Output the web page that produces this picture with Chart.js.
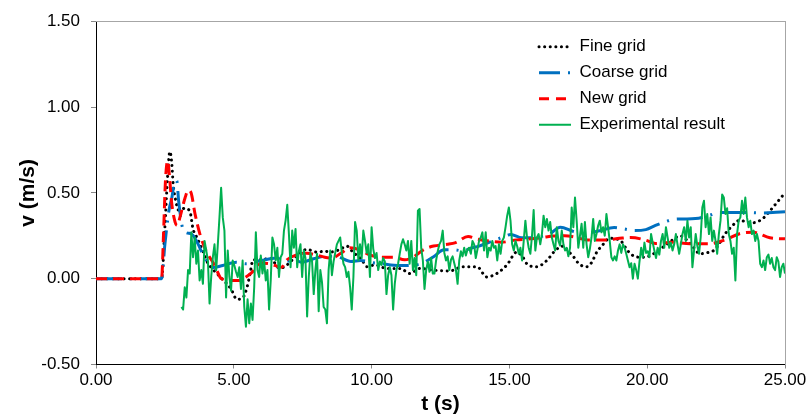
<!DOCTYPE html>
<html><head><meta charset="utf-8">
<script src="https://cdn.jsdelivr.net/npm/chart.js@4.4.1/dist/chart.umd.min.js"></script>
<style>html,body{margin:0;padding:0;background:#fff;}#wrap{width:811px;height:420px;}</style>
</head><body><div id="wrap"><canvas id="c" width="811" height="420"></canvas></div>
<script>
const xTickValues = [0, 5, 10, 15, 20, 25];
const xTickLabels = ['0.00', '5.00', '10.00', '15.00', '20.00', '25.00'];
const yTickValues = [-0.5, 0, 0.5, 1, 1.5];
const yTickLabels = ['-0.50', '0.00', '0.50', '1.00', '1.50'];
const seriesNames = ['Fine grid', 'Coarse grid', 'New grid', 'Experimental result'];

const fineT = [0,2.38,2.5,2.6,2.68,2.75,2.80,2.90,2.99,3.23,3.41,3.52,3.66,3.88,4.06,4.21,4.57,4.90,5.11,5.33,5.48,5.59,5.70,6.02,6.31,6.67,6.93,7.22,7.65,8.02,8.31,8.49,8.85,9.10,9.32,9.65,9.83,10.12,10.55,11.03,11.39,11.75,12.22,12.84,13.31,13.82,14.18,14.54,14.91,15.27,15.49,15.67,15.99,16.36,16.61,16.79,16.97,17.08,17.34,17.52,17.81,17.99,18.17,18.35,18.64,19.04,19.28,19.48,19.73,20.13,20.39,20.63,21.0,21.18,21.47,21.69,21.91,22.13,22.42,22.6,22.8,23.07,23.36,23.72,23.97,24.23,24.48,24.74,25.0];
const fineV = [0,0,0.3,0.6,0.74,0.67,0.55,0.45,0.40,0.41,0.39,0.29,0.24,0.16,0.09,0.06,0.0,-0.06,-0.12,-0.11,-0.05,0.03,0.11,0.11,0.12,0.06,0.08,0.125,0.17,0.155,0.16,0.155,0.17,0.19,0.155,0.11,0.07,0.08,0.06,0.06,0.03,0.06,0.05,0.045,0.07,0.07,0.01,0.03,0.08,0.155,0.125,0.08,0.07,0.106,0.155,0.18,0.19,0.17,0.125,0.087,0.07,0.096,0.155,0.19,0.235,0.22,0.165,0.135,0.125,0.135,0.165,0.19,0.235,0.25,0.22,0.18,0.145,0.15,0.165,0.2,0.255,0.305,0.34,0.325,0.33,0.355,0.40,0.45,0.50];

const coarseT = [0,2.38,2.5,2.65,2.75,2.85,2.93,3.0,3.07,3.17,3.47,3.71,3.85,4.25,4.6,5.1,5.45,6.0,6.55,6.9,7.2,7.45,7.9,8.3,8.7,9.25,9.6,10.05,10.4,10.7,11.27,11.79,12.07,12.25,12.63,13.0,13.3,13.65,13.9,14.5,14.8,15.05,15.45,15.75,16.1,16.45,16.85,17.3,17.7,18.0,18.3,18.8,19.15,19.55,19.95,20.3,20.7,20.9,21.3,21.75,22.27,22.6,23.1,23.6,24.1,24.55,25.0];
const coarseV = [0,0,0.2,0.40,0.47,0.56,0.57,0.45,0.36,0.28,0.26,0.20,0.15,0.065,0.077,0.096,0.087,0.106,0.12,0.10,0.11,0.096,0.116,0.13,0.13,0.10,0.106,0.093,0.087,0.08,0.077,0.087,0.11,0.128,0.168,0.168,0.162,0.18,0.19,0.226,0.245,0.257,0.238,0.238,0.245,0.26,0.30,0.276,0.262,0.27,0.28,0.298,0.29,0.28,0.286,0.31,0.334,0.344,0.348,0.35,0.37,0.386,0.386,0.386,0.383,0.385,0.39];

const newT = [0,2.38,2.45,2.52,2.6,2.68,2.74,2.87,2.95,3.05,3.23,3.35,3.45,3.59,3.77,4.0,4.3,4.55,4.9,5.2,5.4,5.65,6.0,6.3,6.74,6.9,7.3,7.65,7.95,8.3,8.55,8.9,9.2,9.6,9.9,10.4,10.8,11.2,11.5,11.9,12.25,12.75,13.05,13.5,13.85,14.3,14.7,15.25,15.8,16.2,16.6,17.0,17.45,17.8,18.5,19.0,19.4,19.95,20.3,20.9,21.55,22.2,22.8,23.35,23.85,24.45,25.0];
const newV = [0,0,0.26,0.57,0.686,0.57,0.45,0.33,0.31,0.36,0.47,0.515,0.50,0.38,0.26,0.16,0.08,0.0,-0.01,-0.01,0.005,0.035,0.09,0.087,0.067,0.106,0.14,0.148,0.14,0.125,0.12,0.15,0.18,0.166,0.14,0.125,0.125,0.11,0.125,0.17,0.19,0.2,0.21,0.245,0.23,0.218,0.212,0.226,0.232,0.24,0.248,0.25,0.24,0.226,0.226,0.235,0.24,0.224,0.205,0.212,0.203,0.203,0.225,0.262,0.27,0.238,0.232];

const expT = [
3.10,3.16,3.22,3.28,3.34,3.40,3.46,3.52,3.58,3.64,
3.70,3.76,3.82,3.88,3.94,4.00,4.06,4.12,4.18,4.24,
4.30,4.36,4.42,4.48,4.54,4.60,4.66,4.72,4.78,4.84,
4.90,4.96,5.02,5.08,5.14,5.20,5.26,5.32,5.38,5.44,
5.50,5.56,5.62,5.68,5.74,5.80,5.86,5.92,5.98,6.04,
6.10,6.16,6.22,6.28,6.34,6.40,6.46,6.52,6.58,6.64,
6.70,6.76,6.82,6.88,6.94,7.00,7.06,7.12,7.18,7.24,
7.30,7.36,7.42,7.48,7.54,7.60,7.66,7.72,7.78,7.84,
7.90,7.96,8.02,8.08,8.14,8.20,8.26,8.32,8.38,8.44,
8.50,8.56,8.62,8.68,8.74,8.80,8.86,8.92,8.98,9.04,
9.10,9.16,9.22,9.28,9.34,9.40,9.46,9.52,9.58,9.64,
9.70,9.76,9.82,9.88,9.94,10.00,10.06,10.12,10.18,10.24,
10.30,10.36,10.42,10.48,10.54,10.60,10.66,10.72,10.78,10.84,
10.90,10.96,11.02,11.08,11.14,11.20,11.26,11.32,11.38,11.44,
11.50,11.56,11.62,11.68,11.74,11.80,11.86,11.92,11.98,12.04,
12.10,12.16,12.22,12.28,12.34,12.40,12.46,12.52,12.58,12.64,
12.70,12.76,12.82,12.88,12.94,13.00,13.06,13.12,13.18,13.24,
13.30,13.36,13.42,13.48,13.54,13.60,13.66,13.72,13.78,13.84,
13.90,13.96,14.02,14.08,14.14,14.20,14.26,14.32,14.38,14.44,
14.50,14.56,14.62,14.68,14.74,14.80,14.86,14.92,14.98,15.04,
15.10,15.16,15.22,15.28,15.34,15.40,15.46,15.52,15.58,15.64,
15.70,15.76,15.82,15.88,15.94,16.00,16.06,16.12,16.18,16.24,
16.30,16.36,16.42,16.48,16.54,16.60,16.66,16.72,16.78,16.84,
16.90,16.96,17.02,17.08,17.14,17.20,17.26,17.32,17.38,17.44,
17.50,17.56,17.62,17.68,17.74,17.80,17.86,17.92,17.98,18.04,
18.10,18.16,18.22,18.28,18.34,18.40,18.46,18.52,18.58,18.64,
18.70,18.76,18.82,18.88,18.94,19.00,19.06,19.12,19.18,19.24,
19.30,19.36,19.42,19.48,19.54,19.60,19.66,19.72,19.78,19.84,
19.90,19.96,20.02,20.08,20.14,20.20,20.26,20.32,20.38,20.44,
20.50,20.56,20.62,20.68,20.74,20.80,20.86,20.92,20.98,21.04,
21.10,21.16,21.22,21.28,21.34,21.40,21.46,21.52,21.58,21.64,
21.70,21.76,21.82,21.88,21.94,22.00,22.06,22.12,22.18,22.24,
22.30,22.36,22.42,22.48,22.54,22.60,22.66,22.72,22.78,22.84,
22.90,22.96,23.02,23.08,23.14,23.20,23.26,23.32,23.38,23.44,
23.50,23.56,23.62,23.68,23.74,23.80,23.86,23.92,23.98,24.04,
24.10,24.16,24.22,24.28,24.34,24.40,24.46,24.52,24.58,24.64,
24.70,24.76,24.82,24.88,24.94,25.00];
const expV = [
-0.165,-0.18,-0.05,-0.11,0.05,0.03,0.27,0.125,0.24,0.087,
0.164,-0.01,0.05,-0.03,0.22,0.164,0.106,-0.145,0.01,0.125,
0.2,0.05,0.2,0.357,0.53,0.357,0.28,-0.11,0.164,0.01,
-0.07,0.106,0.077,0.04,0.01,0.067,-0.06,0.106,-0.165,-0.28,
-0.12,-0.26,-0.145,-0.24,-0.05,0.27,0.05,0.01,0.135,0.03,
0.106,-0.01,0.05,-0.18,-0.01,0.24,0.2,0.106,0.18,0.01,
0.125,0.145,0.28,0.34,0.43,0.26,0.067,0.28,0.18,0.29,
0.067,0.16,0.2,0.01,0.164,0.12,-0.22,0.01,0.15,0.1,
-0.09,0.05,0.145,-0.19,0.05,-0.02,-0.165,-0.18,-0.26,0.05,
0.164,0.02,0.1,0.15,0.2,0.22,0.24,0.15,0.087,0.067,
0.01,0.04,-0.05,-0.18,0.01,0.33,0.28,0.106,0.2,0.12,
0.28,0.22,0.15,0.2,0.01,0.3,0.174,0.12,0.15,0.05,
0.1,
0.08,0.12,0.1,-0.09,0.02,0.067,0.02,-0.18,-0.03,0.05,
0.087,0.145,0.2,0.23,0.2,0.164,0.22,0.087,0.22,0.05,
0.12,0.02,0.396,0.406,0.18,0.106,-0.06,0.05,0.1,0.04,
0.12,0.03,0.03,0.106,0.16,0.2,0.22,0.28,0.15,0.106,
0.13,0.05,0.11,0.13,0.09,0.05,-0.03,0.106,0.16,0.13,
0.18,0.135,0.17,0.18,0.145,0.22,0.2,0.12,0.17,0.22,
0.24,0.27,0.164,0.27,0.125,0.18,0.164,0.22,0.18,0.19,
0.106,0.2,0.145,0.22,0.24,0.30,0.367,0.415,0.338,0.2,
0.164,0.22,0.19,0.145,0.18,0.106,0.22,0.338,0.24,0.18,
0.145,0.25,0.40,0.164,0.24,0.26,0.2,0.26,0.367,0.30,
0.348,0.28,0.33,0.24,0.2,0.164,0.30,0.22,0.193,0.28,
0.2,0.164,0.18,0.13,0.18,0.415,0.30,0.473,0.338,0.18,
0.25,
0.32,0.18,0.33,0.2,0.125,0.174,0.24,0.348,0.22,0.26,
0.31,0.338,0.27,0.30,0.25,0.377,0.30,0.22,0.125,0.106,
0.13,0.106,0.164,0.2,0.15,0.2,0.18,0.145,0.106,0.067,
0.09,0.0,0.087,0.05,0.0,0.1,0.18,0.125,0.21,0.15,
0.16,0.125,0.26,0.21,0.164,0.12,0.18,0.14,0.22,0.26,
0.18,0.30,0.24,0.18,0.21,0.164,0.2,0.26,0.2,0.145,
0.2,
0.26,0.30,0.22,0.338,0.24,0.30,0.067,0.164,0.26,0.19,
0.145,0.24,0.415,0.454,0.30,0.377,0.26,0.357,0.22,0.28,
0.22,0.145,0.26,0.338,0.49,0.473,0.377,0.41,0.26,0.22,
0.145,0.18,-0.01,0.26,0.338,0.357,0.454,0.377,0.473,0.357,
0.30,0.338,0.26,0.28,0.22,0.26,0.22,0.087,0.067,0.106,
0.05,0.125,0.14,0.087,0.12,0.067,0.05,0.125,0.1,0.01,
0.067,0.087,0.03];

function pairs(ts, vs) { return ts.map((t, i) => ({ x: t, y: vs[i] })); }

Chart.defaults.font.family = "'Liberation Sans', Arial, sans-serif";
Chart.defaults.font.size = 17;
Chart.defaults.color = '#000';

const legendPlace = {
  id: 'legendPlace',
  afterLayout(chart) {
    const lg = chart.legend, ca = chart.chartArea;
    if (!lg || !ca) return;
    lg.left = ca.left + 434;
    lg.top = ca.top + 8;
    lg.right = ca.right;
    lg.bottom = ca.bottom;
  }
};

const common = { pointRadius: 0, pointHoverRadius: 0, fill: false };

new Chart(document.getElementById('c'), {
  type: 'line',
  data: {
    datasets: [
      Object.assign({ label: seriesNames[0], data: pairs(fineT, fineV), borderColor: '#000000', backgroundColor: '#000000',
        borderWidth: 3, borderDash: [0.1, 5.5], legendDash: [0.1, 5.5], borderCapStyle: 'round', cubicInterpolationMode: 'monotone', order: 3 }, common),
      Object.assign({ label: seriesNames[1], data: pairs(coarseT, coarseV), borderColor: '#0070C0', backgroundColor: '#0070C0',
        borderWidth: 3, borderDash: [26, 8, 2, 8], legendDash: [21, 8, 2, 8], borderCapStyle: 'butt', cubicInterpolationMode: 'monotone', order: 2 }, common),
      Object.assign({ label: seriesNames[2], data: pairs(newT, newV), borderColor: '#FF0000', backgroundColor: '#FF0000',
        borderWidth: 3, borderDash: [11, 6], legendDash: [10, 7], borderCapStyle: 'butt', cubicInterpolationMode: 'monotone', order: 1 }, common),
      Object.assign({ label: seriesNames[3], data: pairs(expT, expV), borderColor: '#00B050', backgroundColor: '#00B050',
        borderWidth: 2, legendDash: [], tension: 0, borderJoinStyle: 'round', order: 0 }, common)
    ]
  },
  options: {
    responsive: false,
    animation: false,
    events: [],
    layout: { padding: { left: 0, top: 19.5, right: 26, bottom: 0 } },
    scales: {
      x: {
        type: 'linear', position: 'bottom', min: 0, max: 25,
        afterBuildTicks: (s) => { s.ticks = xTickValues.map(v => ({ value: v })); },
        ticks: { autoSkip: false, maxRotation: 0, padding: 2, color: '#000',
          callback: (v, i) => xTickLabels[i] },
        grid: { display: true, drawOnChartArea: false, drawTicks: true, tickLength: 4, tickColor: '#888888' },
        border: { display: true, color: '#000', width: 1 },
        title: { display: true, text: 't (s)', font: { size: 21, weight: 'bold' }, padding: { top: 0, bottom: 3 }, color: '#000' },
        afterFit: (s) => { s.height = 55.5; }
      },
      y: {
        type: 'linear', position: 'left', min: -0.5, max: 1.5,
        afterBuildTicks: (s) => { s.ticks = yTickValues.map(v => ({ value: v })); },
        ticks: { padding: 11, color: '#000',
          callback: (v, i) => yTickLabels[i] },
        grid: { display: true, drawOnChartArea: false, drawTicks: true, tickLength: 5, tickColor: '#888888' },
        border: { display: true, color: '#000', width: 1 },
        title: { display: true, text: 'v (m/s)', font: { size: 21, weight: 'bold' }, padding: { top: 16, bottom: 0 }, color: '#000' },
        afterFit: (s) => { s.width = 96; }
      },
      xTop: {
        type: 'linear', position: 'top', min: 0, max: 25, display: true,
        ticks: { display: false }, grid: { display: false, drawTicks: false },
        border: { display: true, color: '#A6A6A6', width: 1 },
        afterFit: (s) => { s.height = 0; }
      },
      yRight: {
        type: 'linear', position: 'right', min: -0.5, max: 1.5, display: true,
        ticks: { display: false }, grid: { display: false, drawTicks: false },
        border: { display: true, color: '#A6A6A6', width: 1 },
        afterFit: (s) => { s.width = 0; }
      }
    },
    plugins: {
      tooltip: { enabled: false },
      legend: {
        display: true, position: 'chartArea', align: 'start',
        labels: {
          usePointStyle: true, pointStyleWidth: 32, padding: 9, color: '#000',
          font: { size: 17 },
          generateLabels: (chart) => chart.data.datasets.map((ds, i) => ({
            text: ds.label, fillStyle: ds.borderColor, strokeStyle: ds.borderColor,
            lineWidth: ds.borderWidth, lineDash: ds.legendDash || [], lineCap: ds.borderCapStyle || 'butt',
            pointStyle: 'line', hidden: false, datasetIndex: i, fontColor: '#000'
          }))
        }
      }
    }
  },
  plugins: [legendPlace]
});
</script>
</body></html>
